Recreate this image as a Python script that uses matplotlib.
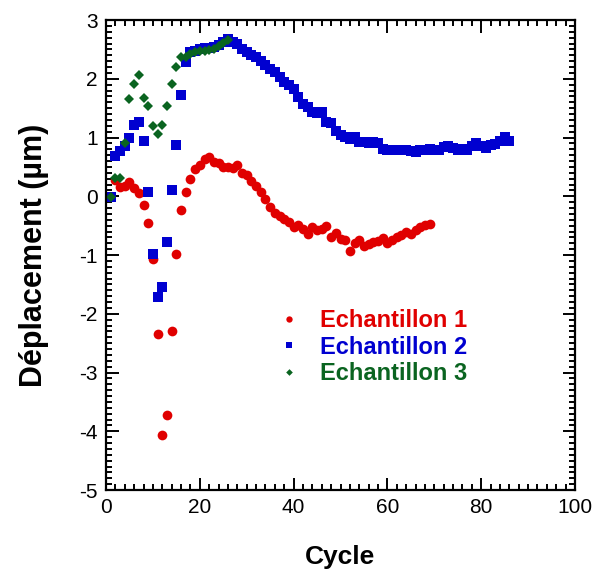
from __future__ import annotations

import matplotlib

matplotlib.use("Agg")
import matplotlib.pyplot as plt
from matplotlib.ticker import MultipleLocator


# Echantillon 1 (red circles), cycles 2..69
cycles_1 = list(range(2, 70))
disp_1 = [
    0.27, 0.16, 0.17, 0.24, 0.14, 0.06, -0.14, -0.45, -1.06, -2.35,
    -4.07, -3.72, -2.29, -0.99, -0.24, 0.07, 0.30, 0.47, 0.54, 0.63,
    0.67, 0.58, 0.56, 0.50, 0.50, 0.49, 0.54, 0.40, 0.36, 0.26,
    0.18, 0.07, -0.04, -0.18, -0.28, -0.34, -0.39, -0.44, -0.53, -0.48,
    -0.55, -0.64, -0.53, -0.57, -0.55, -0.50, -0.69, -0.62, -0.72, -0.75,
    -0.93, -0.79, -0.74, -0.85, -0.82, -0.78, -0.76, -0.71, -0.79, -0.74,
    -0.69, -0.66, -0.61, -0.64, -0.57, -0.53, -0.48, -0.47,
]

# Echantillon 2 (blue squares), cycles 1..86
cycles_2 = list(range(1, 87))
disp_2 = [
    -0.02, 0.68, 0.77, 0.85, 1.00, 1.22, 1.27, 0.94, 0.07, -0.99,
    -1.71, -1.54, -0.78, 0.10, 0.87, 1.72, 2.29, 2.46, 2.48, 2.50,
    2.52, 2.52, 2.55, 2.58, 2.63, 2.67, 2.63, 2.59, 2.51, 2.46,
    2.40, 2.37, 2.31, 2.23, 2.17, 2.12, 2.03, 1.95, 1.89, 1.83,
    1.69, 1.58, 1.52, 1.43, 1.41, 1.43, 1.26, 1.24, 1.12, 1.04,
    1.01, 0.97, 1.01, 0.93, 0.92, 0.90, 0.93, 0.90, 0.80, 0.78,
    0.79, 0.79, 0.78, 0.78, 0.77, 0.75, 0.79, 0.78, 0.81, 0.79,
    0.79, 0.84, 0.85, 0.82, 0.79, 0.80, 0.79, 0.85, 0.91, 0.86,
    0.83, 0.87, 0.89, 0.95, 1.01, 0.95,
]

# Echantillon 3 (green diamonds), cycles 1..26
cycles_3 = list(range(1, 27))
disp_3 = [
    -0.02, 0.32, 0.32, 0.90, 1.65, 1.92, 2.07, 1.67, 1.53, 1.20,
    1.06, 1.22, 1.53, 1.91, 2.20, 2.37, 2.38, 2.42, 2.45, 2.47,
    2.48, 2.49, 2.51, 2.56, 2.61, 2.66,
]

labels = ["Echantillon 1", "Echantillon 2", "Echantillon 3"]
colors = ["#e00000", "#0000d0", "#0a6420"]


def main() -> None:
    plt.rcParams["font.family"] = ["Liberation Sans", "DejaVu Sans"]
    plt.rcParams["axes.unicode_minus"] = False

    fig = plt.figure(figsize=(6.0, 5.74), dpi=100)
    ax = fig.add_axes([0.1767, 0.1463, 0.7816, 0.8187])

    ax.plot(cycles_1, disp_1, "o", color=colors[0], markersize=7, markeredgewidth=0, label=labels[0])
    ax.plot(cycles_2, disp_2, "s", color=colors[1], markersize=7, markeredgewidth=0, label=labels[1])
    ax.plot(cycles_3, disp_3, "D", color=colors[2], markersize=5.2, markeredgewidth=0, label=labels[2])

    ax.set_xlim(0, 100)
    ax.set_ylim(-5, 3)
    ax.xaxis.set_major_locator(MultipleLocator(20))
    ax.xaxis.set_minor_locator(MultipleLocator(2))
    ax.yaxis.set_major_locator(MultipleLocator(1))
    ax.yaxis.set_minor_locator(MultipleLocator(0.1))
    ax.tick_params(which="both", direction="in", top=True, right=True, width=1.4, labelsize=15, pad=6)
    ax.tick_params(which="major", length=9)
    ax.tick_params(which="minor", length=4.5)
    for spine in ax.spines.values():
        spine.set_linewidth(1.6)

    ax.set_xlabel("Cycle", fontsize=19, fontweight="bold", labelpad=20)
    ax.set_ylabel("Déplacement (µm)", fontsize=22, fontweight="bold", labelpad=22)

    ax.legend(
        loc="upper left",
        bbox_to_anchor=(0.32, 0.43),
        frameon=False,
        markerscale=0.65,
        handlelength=1.0,
        handletextpad=0.8,
        labelspacing=0.15,
        prop={"size": 17, "weight": "bold"},
        labelcolor="linecolor",
    )

    fig.savefig("out.png", dpi=100)
    plt.close(fig)


if __name__ == "__main__":
    main()
